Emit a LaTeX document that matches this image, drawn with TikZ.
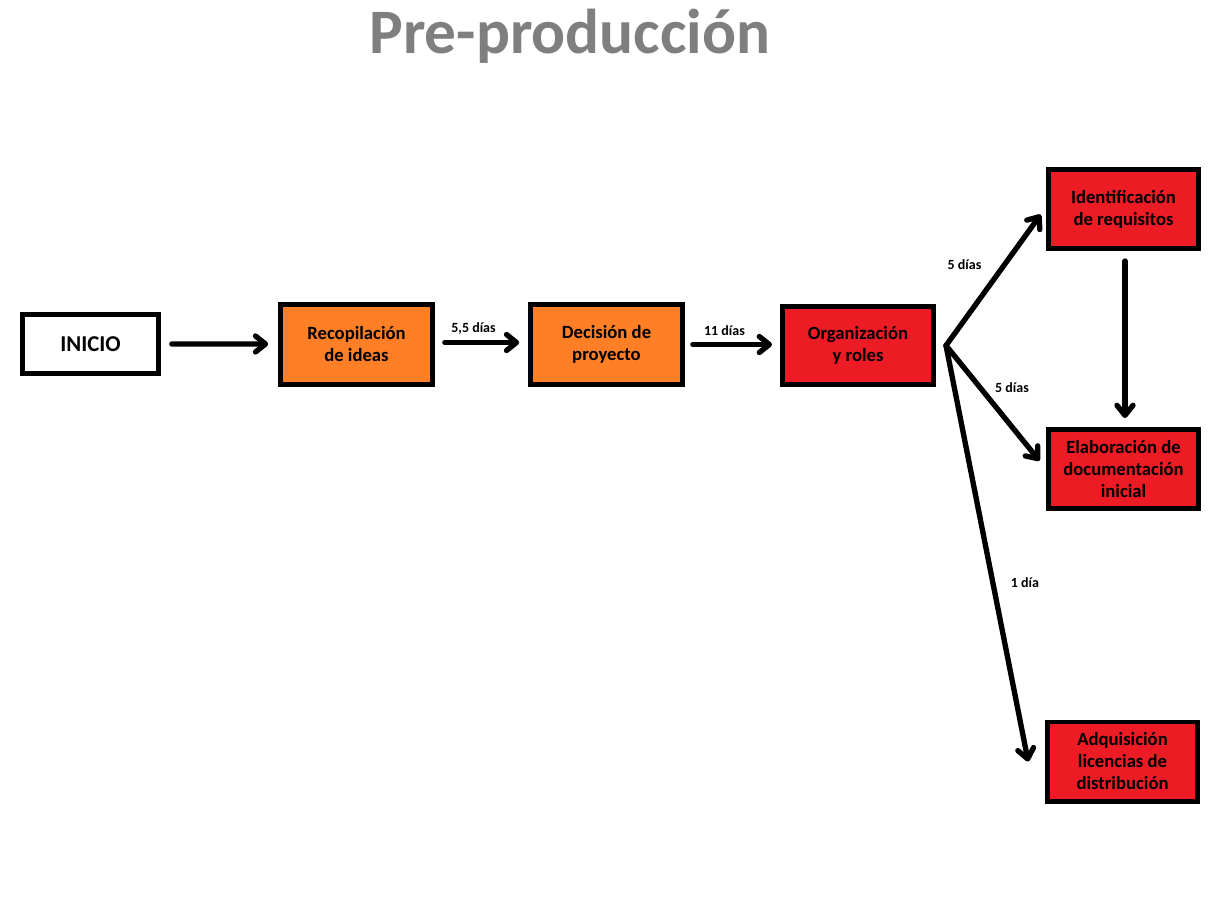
\documentclass[tikz,border=0pt]{standalone}
\usepackage{fontspec}
\setmainfont{Carlito}
\usetikzlibrary{arrows.meta}
\definecolor{paintorange}{HTML}{FF7F27}
\definecolor{paintred}{HTML}{ED1C24}
\definecolor{titlegray}{HTML}{7F7F7F}
\tikzset{
  box/.style={draw=black, line width=3.5pt, minimum width=112.5pt, minimum height=59.5pt,
    inner sep=0pt, align=center, font=\fontsize{14}{16.5}\selectfont\bfseries},
  orangebox/.style={box, fill=paintorange},
  redbox/.style={box, fill=paintred},
  conn/.style={line width=4pt, line cap=round, line join=round,
    -{Straight Barb[length=7.5pt,width=12pt,line cap=round,line join=round]}},
  lbl/.style={font=\fontsize{10.5}{12}\selectfont\bfseries, inner sep=0pt}
}
\begin{document}
\begin{tikzpicture}[x=0.75pt,y=-0.75pt]
\useasboundingbox (0,0) rectangle (1210,915);
\node[font=\fontsize{47.5}{50}\selectfont\bfseries, text=titlegray, anchor=base] (title) at (570,53) {Pre-producción};
\node[box, fill=white, minimum width=102pt, minimum height=44.5pt, font=\fontsize{17}{20}\selectfont\bfseries] (inicio) at (90.5,344) {INICIO};
\node[orangebox, minimum width=114pt, minimum height=60pt] (recop) at (356.5,344.5) {Recopilación\\de ideas};
\node[orangebox, minimum width=114pt, minimum height=60pt] (decision) at (606.5,344.5) {Decisión de\\proyecto};
\node[redbox, minimum width=113.5pt, minimum height=58.8pt] (org) at (858,345.5) {Organización\\y roles};
\node[redbox] (ident) at (1123.5,209) {Identificación\\de requisitos};
\node[redbox] (elab) at (1123.5,469) {Elaboración de\\documentación\\inicial};
\node[redbox] (adq) at (1122.5,761.5) {Adquisición\\licencias de\\distribución};
\coordinate (split) at ([xshift=7.5pt]org.east);
\draw[conn, shorten <=8.25pt, shorten >=7.5pt] (inicio.east) -- ([yshift=0.4pt]recop.west);
\draw[conn, shorten <=7.5pt, shorten >=6.75pt] ([yshift=1.5pt]recop.east) -- ([yshift=1.5pt]decision.west);
\draw[conn, shorten <=6pt, shorten >=6pt] (decision.east) -- ([yshift=0.75pt]org.west);
\draw[conn, shorten >=7pt] (split) -- ([yshift=1.5pt]ident.west);
\draw[conn, shorten >=8pt] (split) -- (elab.west);
\draw[conn] (split) -- ([xshift=-12.75pt]adq.west);
\draw[conn, shorten <=7.5pt, shorten >=6.75pt] ([xshift=1.1pt]ident.south) -- ([xshift=1.1pt]elab.north);
\node[lbl] (l1) at (473.5,329) {5,5 días};
\node[lbl] (l2) at (724.5,331) {11 días};
\node[lbl] (l3) at (964.5,265) {5 días};
\node[lbl] (l4) at (1012,388) {5 días};
\node[lbl] (l5) at (1025,582.5) {1 día};
\end{tikzpicture}
\end{document}
